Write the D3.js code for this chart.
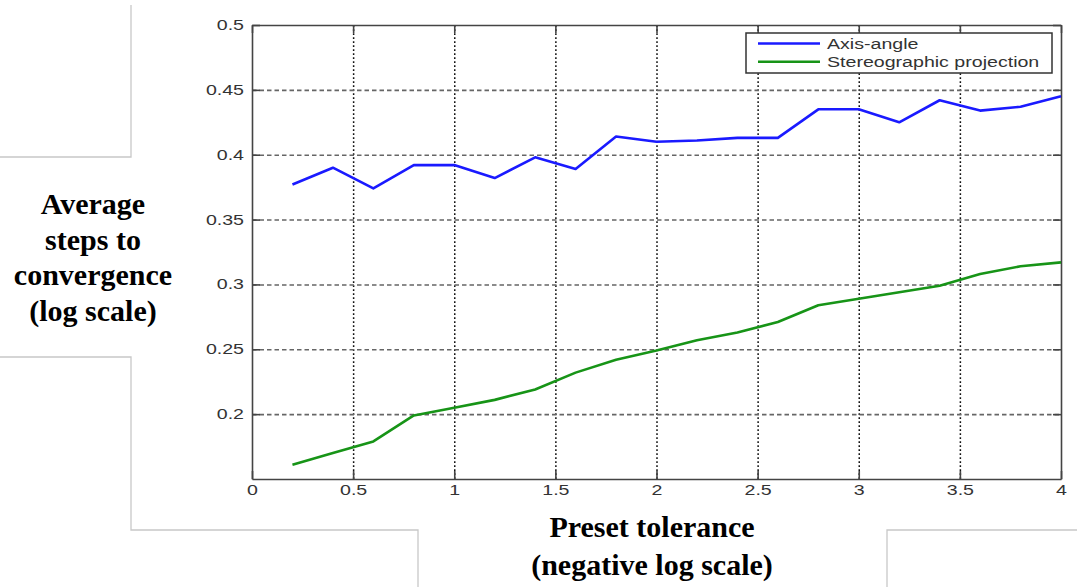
<!DOCTYPE html>
<html>
<head>
<meta charset="utf-8">
<script src="https://cdn.jsdelivr.net/npm/d3@7"></script>
<style>
  body { margin: 0; background: #fff; }
  .tick text { font: 14px "Liberation Sans", Arial, sans-serif; fill: #333; }
  .axis path, .axis line { stroke: #444; stroke-width: 1.6px; }
  .gridx line { stroke: #111; stroke-width: 1.5px; stroke-dasharray: 1.8,2.2; }
  .gridy line { stroke: #666; stroke-width: 1.6px; stroke-dasharray: 4.5,3; }
  .title { font: bold 30px "Liberation Serif", "Times New Roman", serif; fill: #000; text-anchor: middle; }
  .legend text { font: 14px "Liberation Sans", Arial, sans-serif; fill: #333; }
</style>
</head>
<body>
<svg id="chart" width="1077" height="587"></svg>
<script>
var tolerance = [0.2, 0.4, 0.6, 0.8, 1.0, 1.2, 1.4, 1.6, 1.8, 2.0, 2.2, 2.4, 2.6, 2.8, 3.0, 3.2, 3.4, 3.6, 3.8, 4.0];
var axisAngle = [0.377, 0.390, 0.374, 0.392, 0.392, 0.382, 0.398, 0.389, 0.414, 0.410,
                 0.411, 0.413, 0.413, 0.435, 0.435, 0.425, 0.442, 0.434, 0.437, 0.445];
var stereographic = [0.161, 0.170, 0.179, 0.199, 0.205, 0.211, 0.219, 0.232, 0.242, 0.249,
                     0.257, 0.263, 0.271, 0.284, 0.289, 0.294, 0.299, 0.308, 0.314, 0.317];
var seriesNames = ["Axis-angle", "Stereographic projection"];
var seriesColors = ["#1a1aff", "#179417"];
var xTicks = [0, 0.5, 1, 1.5, 2, 2.5, 3, 3.5, 4];
var yTicks = [0.2, 0.25, 0.3, 0.35, 0.4, 0.45, 0.5];

var svg = d3.select("#chart"),
    plotLeft = 252, plotRight = 1061, plotTop = 25, plotBottom = 479,
    stretch = 1.4;

var x = d3.scaleLinear().domain([0, 4]).range([plotLeft, plotRight]);
var y = d3.scaleLinear().domain([0.15, 0.5]).range([plotBottom, plotTop]);

// slide frame leftovers
svg.append("path")
  .attr("d", "M131,5V157H0 M0,357H131V530H418V587 M887,587V530H1077")
  .attr("fill", "none")
  .attr("stroke", "#c8c8c8")
  .attr("stroke-width", 1.3);

// grid
svg.append("g").attr("class", "gridx")
  .attr("transform", "translate(0," + plotBottom + ")")
  .call(d3.axisBottom(x).tickValues(xTicks.slice(1, -1)).tickSize(-(plotBottom - plotTop)).tickFormat(""))
  .call(function(g) { g.select(".domain").remove(); });

svg.append("g").attr("class", "gridy")
  .attr("transform", "translate(" + plotLeft + ",0)")
  .call(d3.axisLeft(y).tickValues(yTicks.slice(0, -1)).tickSize(-(plotRight - plotLeft)).tickFormat(""))
  .call(function(g) { g.select(".domain").remove(); });

// axes, ticks pointing inward
svg.append("g").attr("class", "axis")
  .attr("transform", "translate(0," + plotTop + ")")
  .call(d3.axisTop(x).tickValues(xTicks).tickSize(-8).tickSizeOuter(0).tickFormat(""));

svg.append("g").attr("class", "axis")
  .attr("transform", "translate(" + plotRight + ",0)")
  .call(d3.axisRight(y).tickValues(yTicks).tickSize(-8).tickSizeOuter(0).tickFormat(""));

var xAxis = svg.append("g").attr("class", "axis")
  .attr("transform", "translate(0," + plotBottom + ")")
  .call(d3.axisBottom(x).tickValues(xTicks).tickSize(-8).tickSizeOuter(0).tickPadding(6).tickFormat(d3.format("")));
xAxis.selectAll("text").attr("transform", "scale(" + stretch + ",1)");

var yAxis = svg.append("g").attr("class", "axis")
  .attr("transform", "translate(" + plotLeft + ",0)")
  .call(d3.axisLeft(y).tickValues(yTicks).tickSize(-8).tickSizeOuter(0).tickFormat(d3.format("")));
yAxis.selectAll("text")
  .attr("x", -8 / stretch)
  .attr("transform", "scale(" + stretch + ",1)");

// lines
var line = d3.line()
  .x(function(d) { return x(d[0]); })
  .y(function(d) { return y(d[1]); });

[axisAngle, stereographic].forEach(function(values, i) {
  svg.append("path")
    .datum(tolerance.map(function(t, j) { return [t, values[j]]; }))
    .attr("fill", "none")
    .attr("stroke", seriesColors[i])
    .attr("stroke-width", 2.6)
    .attr("stroke-linejoin", "round")
    .attr("d", line);
});

// legend
var legend = svg.append("g").attr("class", "legend");
legend.append("rect")
  .attr("x", 746).attr("y", 33)
  .attr("width", 306).attr("height", 40)
  .attr("fill", "#fff")
  .attr("stroke", "#333")
  .attr("stroke-width", 1.5);

seriesNames.forEach(function(name, i) {
  var ly = 43.5 + i * 18.3;
  legend.append("line")
    .attr("x1", 758).attr("x2", 820)
    .attr("y1", ly).attr("y2", ly)
    .attr("stroke", seriesColors[i])
    .attr("stroke-width", 2.6);
  legend.append("text")
    .attr("transform", "translate(827," + (ly + 5.5) + ") scale(" + stretch + ",1)")
    .text(name);
});

// titles
var yTitle = ["Average", "steps to", "convergence", "(log scale)"];
svg.append("g").selectAll("text")
  .data(yTitle)
  .enter().append("text")
    .attr("class", "title")
    .attr("x", 93)
    .attr("y", function(d, i) { return 214 + i * 35.5; })
    .text(function(d) { return d; });

var xTitle = ["Preset tolerance", "(negative log scale)"];
svg.append("g").selectAll("text")
  .data(xTitle)
  .enter().append("text")
    .attr("class", "title")
    .attr("x", 652)
    .attr("y", function(d, i) { return 537 + i * 38; })
    .text(function(d) { return d; });
</script>
</body>
</html>
